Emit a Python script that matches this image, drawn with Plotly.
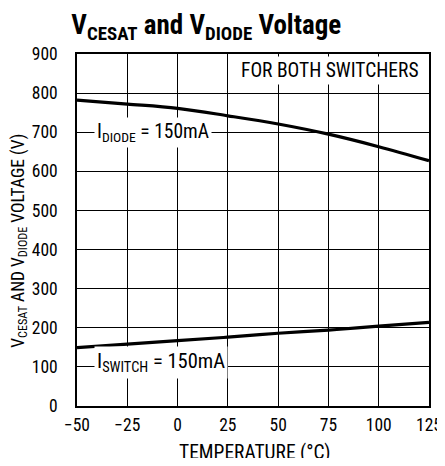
import plotly.graph_objects as go

temps = [-50, -25, 0, 25, 50, 75, 100, 125]
v_diode = [782, 772, 761, 742, 721, 695, 663, 627]
v_cesat = [149, 158, 167, 176, 186, 194, 204, 214]
x_ticks = [-50, -25, 0, 25, 50, 75, 100, 125]
x_tick_labels = ["\u221250", "\u221225", "0", "25", "50", "75", "100", "125"]
y_ticks = [0, 100, 200, 300, 400, 500, 600, 700, 800, 900]

FONT = "Roboto Condensed, Liberation Sans Narrow, sans-serif"

fig = go.Figure()
fig.add_trace(go.Scatter(x=temps, y=v_diode, mode="lines", line=dict(color="black", width=3.2, shape="spline"), showlegend=False))
fig.add_trace(go.Scatter(x=temps, y=v_cesat, mode="lines", line=dict(color="black", width=3.2, shape="spline"), showlegend=False))

fig.add_annotation(x=121.5, y=857, xref="x", yref="y", text="FOR BOTH SWITCHERS", showarrow=False,
                   xanchor="right", yanchor="middle", bgcolor="white", font=dict(size=19.5, color="black", family=FONT), borderpad=2)
fig.add_annotation(x=-12.3, y=700, xref="x", yref="y", text="I<sub>DIODE</sub> = 150mA", showarrow=False,
                   xanchor="center", yanchor="middle", bgcolor="white", font=dict(size=19.5, color="black", family=FONT), borderpad=2)
fig.add_annotation(x=-8, y=110, xref="x", yref="y", text="I<sub>SWITCH</sub> = 150mA", showarrow=False,
                   xanchor="center", yanchor="middle", bgcolor="white", font=dict(size=20.5, color="black", family=FONT), borderpad=2)
fig.add_annotation(x=-0.164, y=0.47, xref="paper", yref="paper", text="V<sub>CESAT</sub> AND V<sub>DIODE</sub> VOLTAGE (V)",
                   showarrow=False, textangle=-90, xanchor="center", yanchor="middle",
                   font=dict(size=17.5, color="black", family=FONT))
fig.add_annotation(x=0.506, y=-0.133, xref="paper", yref="paper", text="TEMPERATURE (\u00b0C)",
                   showarrow=False, xanchor="center", yanchor="middle",
                   font=dict(size=19.5, color="black", family=FONT))

fig.update_layout(
    width=437, height=450,
    margin=dict(l=69, r=16, t=46, b=52, autoexpand=False),
    paper_bgcolor="white", plot_bgcolor="white",
    font=dict(family=FONT, color="black", size=17),
    title=dict(text="<b>V<sub>CESAT</sub> and V<sub>DIODE</sub> Voltage</b>", x=0.145, xanchor="left",
               y=0.984, yanchor="top", font=dict(size=27, family=FONT, color="black")),
    xaxis=dict(range=[-50, 125], tickvals=x_ticks, ticktext=x_tick_labels, showgrid=True, gridcolor="black", gridwidth=1,
               showline=True, linecolor="black", linewidth=1.5, mirror=True, zeroline=False, ticks="",
               ticklabelstandoff=2, automargin=False,
               tickfont=dict(size=17.5, family=FONT)),
    yaxis=dict(range=[0, 900], tickvals=y_ticks, showgrid=True, gridcolor="black", gridwidth=1,
               showline=True, linecolor="black", linewidth=1.5, mirror=True, zeroline=False, ticks="",
               ticklabelstandoff=14, automargin=False,
               tickfont=dict(size=17.5, family=FONT)),
)

fig.write_html("out.html")
